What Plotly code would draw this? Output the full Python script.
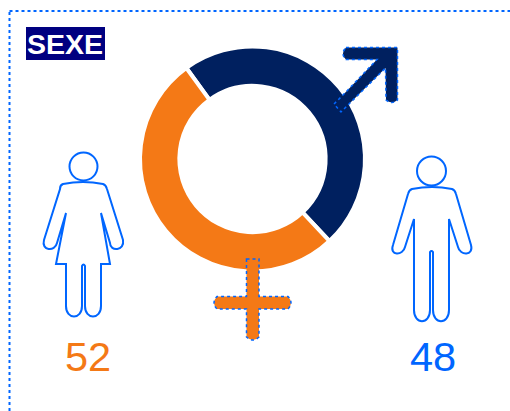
import plotly.graph_objects as go

W, H = 510, 411
categories = ["Homme", "Femme"]
values = [48, 52]
title = "SEXE"
NAVY, ORANGE, BLUE = "#00205F", "#F47916", "#0066FF"


def px(cmds):
    """Build an SVG path in paper units from pixel-style (cmd, x, y, ...) tuples."""
    out = []
    for c in cmds:
        if c[0] == "Z":
            out.append("Z")
            continue
        pts = c[1:]
        s = c[0]
        for i in range(0, len(pts), 2):
            s += f" {pts[i] / W:.5f},{1 - pts[i + 1] / H:.5f}"
        out.append(s)
    return " ".join(out)


def outline(path):
    return dict(type="path", xref="paper", yref="paper", path=px(path),
                line=dict(color=BLUE, width=2), fillcolor="white", layer="above")


def circle(cx, cy, r):
    return dict(type="circle", xref="paper", yref="paper",
                x0=(cx - r) / W, x1=(cx + r) / W, y0=1 - (cy + r) / H, y1=1 - (cy - r) / H,
                line=dict(color=BLUE, width=2), fillcolor="white", layer="above")


woman = [
    ("M", 63, 184), ("Q", 83, 180, 103, 184), ("Q", 106, 185, 107, 189),
    ("L", 123, 240), ("C", 125, 251, 110, 252, 110, 243),
    ("L", 101, 213), ("L", 110, 264), ("L", 101, 264), ("L", 101, 306),
    ("C", 101, 320, 85, 320, 85, 306), ("L", 85, 266), ("Q", 83.5, 263, 82, 266),
    ("L", 82, 306), ("C", 82, 320, 66, 320, 66, 306), ("L", 66, 264),
    ("L", 56, 264), ("L", 66, 213), ("L", 57, 243),
    ("C", 55, 252, 41, 251, 44, 240), ("L", 60, 189), ("Q", 60, 185, 63, 184), ("Z",),
]
man = [
    ("M", 412, 189), ("Q", 432, 185, 452, 189), ("Q", 455, 190, 456, 194),
    ("L", 471, 245), ("C", 474, 256, 460, 256, 458, 247),
    ("L", 449, 219), ("L", 449, 310), ("C", 449, 325, 433, 325, 433, 310),
    ("L", 433, 252), ("Q", 431.5, 250, 430, 252), ("L", 430, 310),
    ("C", 430, 325, 414, 325, 414, 310), ("L", 414, 219), ("L", 405, 247),
    ("C", 403, 256, 389, 256, 393, 245), ("L", 408, 194), ("Q", 409, 190, 412, 189), ("Z",),
]
arrow = [
    ("M", 346, 47.5), ("L", 397.5, 47.5), ("L", 397.5, 100), ("Q", 392, 105, 386, 100),
    ("L", 385.5, 68), ("L", 349, 104), ("L", 341, 112), ("L", 334, 104), ("L", 342, 96),
    ("L", 377, 59.5), ("L", 346, 59.5), ("Q", 340, 54, 346, 47.5), ("Z",),
]
cross = [
    ("M", 246.5, 259), ("L", 259, 259), ("L", 259, 296.5), ("L", 288, 296.5), ("Q", 294, 303, 288, 309),
    ("L", 259, 309), ("L", 259, 337), ("Q", 253, 343, 246.5, 337), ("L", 246.5, 309),
    ("L", 217, 309), ("Q", 211, 303, 217, 296.5), ("L", 246.5, 296.5), ("Z",),
]

shapes = [
    dict(type="line", xref="paper", yref="paper", x0=9.5 / W, x1=1, y0=1 - 11 / H, y1=1 - 11 / H,
         line=dict(color=BLUE, width=2, dash="dot")),
    dict(type="line", xref="paper", yref="paper", x0=9.5 / W, x1=9.5 / W, y0=0, y1=1 - 11 / H,
         line=dict(color=BLUE, width=2, dash="dot")),
    dict(type="rect", xref="paper", yref="paper", x0=26 / W, x1=105 / W, y0=1 - 60 / H, y1=1 - 27 / H,
         fillcolor="#000080", line=dict(width=0)),
    outline(woman), circle(83.5, 166.5, 14),
    outline(man), circle(431.5, 171, 14.5),
]
for p, col in ((arrow, NAVY), (cross, ORANGE)):
    shapes.append(dict(type="path", xref="paper", yref="paper", path=px(p), fillcolor=col,
                       line=dict(color=BLUE, width=1.5, dash="dot"), layer="above"))

fig = go.Figure(go.Pie(
    labels=categories, values=values, sort=False, direction="clockwise", rotation=-36,
    hole=0.65, textinfo="none", showlegend=False,
    marker=dict(colors=[NAVY, ORANGE], line=dict(color="white", width=4)),
    domain=dict(x=[140 / W, 365 / W], y=[1 - 272 / H, 1 - 46 / H]),
))


def label(x, y, text, color, size, bold=False):
    fig.add_annotation(xref="paper", yref="paper", x=x / W, y=1 - y / H, text=f"<b>{text}</b>" if bold else text,
                       showarrow=False, xanchor="center", yanchor="middle",
                       font=dict(family="Liberation Sans, Arial", size=size, color=color))


label(65, 43.5, title, "white", 28.5, True)
label(87.5, 356, str(values[1]), ORANGE, 41.5)
label(433, 356, str(values[0]), BLUE, 41.5)

fig.update_layout(width=W, height=H, margin=dict(l=0, r=0, t=0, b=0), autosize=False,
                  paper_bgcolor="white", plot_bgcolor="white", shapes=shapes)
fig.write_html("out.html", config=dict(displayModeBar=False),
               post_script="document.body.style.margin='0';document.body.style.overflow='hidden';")
